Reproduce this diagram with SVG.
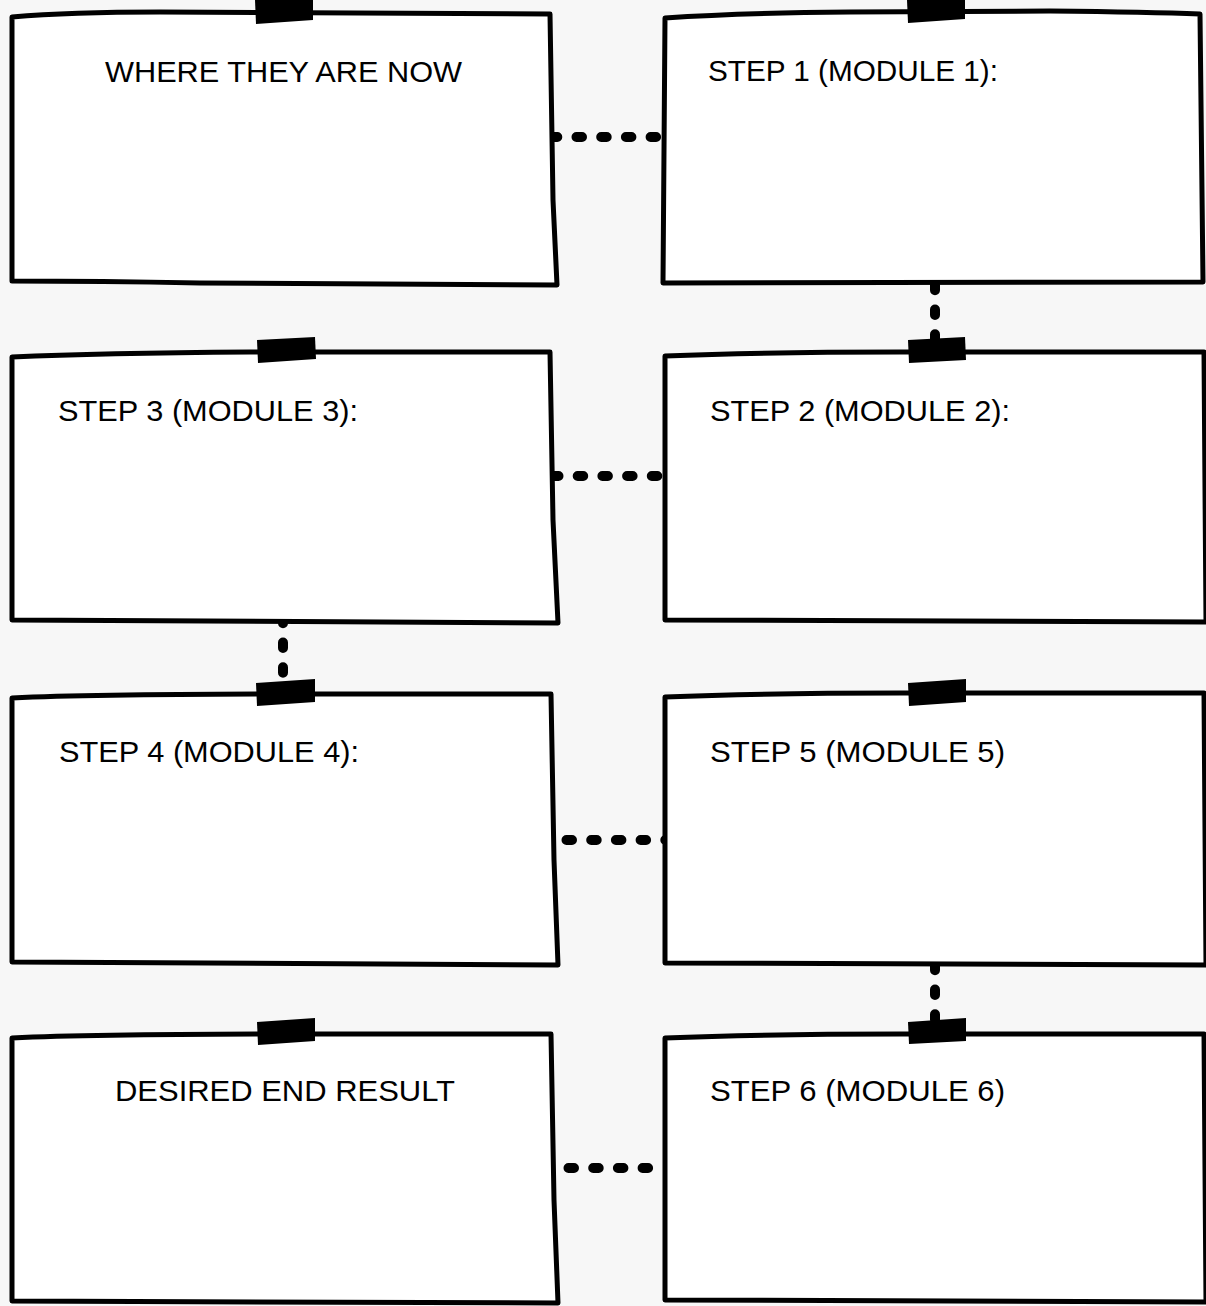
<svg xmlns="http://www.w3.org/2000/svg" width="1206" height="1306" viewBox="0 0 1206 1306">
<style>
.bg{fill:#f7f7f7}
.box{fill:#ffffff;stroke:#000000;stroke-width:5;stroke-linejoin:round;stroke-linecap:round}
.tape{fill:#000000}
.conn{stroke:#000000;stroke-width:10;stroke-linecap:round;stroke-dasharray:5.5 19.2;fill:none}
.lbl{font-family:"Liberation Sans",Arial,sans-serif;font-size:30px;fill:#000000}
</style>
<rect class="bg" x="0" y="0" width="1206" height="1306"/>
<g id="connectors">
<line class="conn" x1="551.8" y1="137" x2="657" y2="137"/>
<line class="conn" x1="553" y1="476" x2="658" y2="476"/>
<line class="conn" x1="566.5" y1="840" x2="672" y2="840"/>
<line class="conn" x1="568.5" y1="1168" x2="649" y2="1168"/>
<line class="conn" x1="935" y1="284.8" x2="935" y2="345"/>
<line class="conn" x1="283" y1="617.8" x2="283" y2="680"/>
<line class="conn" x1="935" y1="964.8" x2="935" y2="1025"/>
</g>
<g id="where-now">
<path class="box" d="M12,17 Q70,12 160,12 L550,14 Q552,120 553,200 L557,285 L200,283 Q100,281 12,281 Z"/>
<polygon class="tape" points="255,0 313,-3 313,20 256,24"/>
<text class="lbl" x="105" y="82" textLength="357" lengthAdjust="spacingAndGlyphs">WHERE THEY ARE NOW</text>
</g>
<g id="step1">
<path class="box" d="M665,18 Q740,13 850,12 L1050,11 Q1150,12 1200,14 L1203,282 L663,283 Z"/>
<polygon class="tape" points="907,0 965,-3 965,19 908,23"/>
<text class="lbl" x="708" y="81" textLength="290" lengthAdjust="spacingAndGlyphs">STEP 1 (MODULE 1):</text>
</g>
<g id="step2">
<path class="box" d="M665,356 Q760,352 900,352 L1204,352 L1206,622 L665,620 Z"/>
<polygon class="tape" points="908,340 965,337 966,360 909,363"/>
<text class="lbl" x="710" y="421" textLength="300" lengthAdjust="spacingAndGlyphs">STEP 2 (MODULE 2):</text>
</g>
<g id="step3">
<path class="box" d="M12,357 Q100,353 250,352 L550,352 Q552,450 553,520 L558,623 L12,620 Z"/>
<polygon class="tape" points="257,340 315,337 316,359 258,363"/>
<text class="lbl" x="58" y="421" textLength="300" lengthAdjust="spacingAndGlyphs">STEP 3 (MODULE 3):</text>
</g>
<g id="step4">
<path class="box" d="M12,698 Q100,694 300,694 L551,694 Q553,800 554,860 L558,965 L12,962 Z"/>
<polygon class="tape" points="256,683 315,679 315,702 257,706"/>
<text class="lbl" x="59" y="762" textLength="300" lengthAdjust="spacingAndGlyphs">STEP 4 (MODULE 4):</text>
</g>
<g id="step5">
<path class="box" d="M665,697 Q760,693 900,693 L1204,693 L1206,965 L665,963 Z"/>
<polygon class="tape" points="908,683 966,679 966,702 909,706"/>
<text class="lbl" x="710" y="762" textLength="295" lengthAdjust="spacingAndGlyphs">STEP 5 (MODULE 5)</text>
</g>
<g id="desired-end">
<path class="box" d="M12,1038 Q100,1034 300,1034 L551,1034 Q553,1140 554,1200 L558,1303 L12,1301 Z"/>
<polygon class="tape" points="257,1022 315,1018 315,1041 258,1045"/>
<text class="lbl" x="115" y="1101" textLength="340" lengthAdjust="spacingAndGlyphs">DESIRED END RESULT</text>
</g>
<g id="step6">
<path class="box" d="M665,1038 Q760,1034 900,1034 L1204,1034 L1206,1302 L665,1300 Z"/>
<polygon class="tape" points="908,1022 966,1018 966,1041 909,1044"/>
<text class="lbl" x="710" y="1101" textLength="295" lengthAdjust="spacingAndGlyphs">STEP 6 (MODULE 6)</text>
</g>
</svg>
